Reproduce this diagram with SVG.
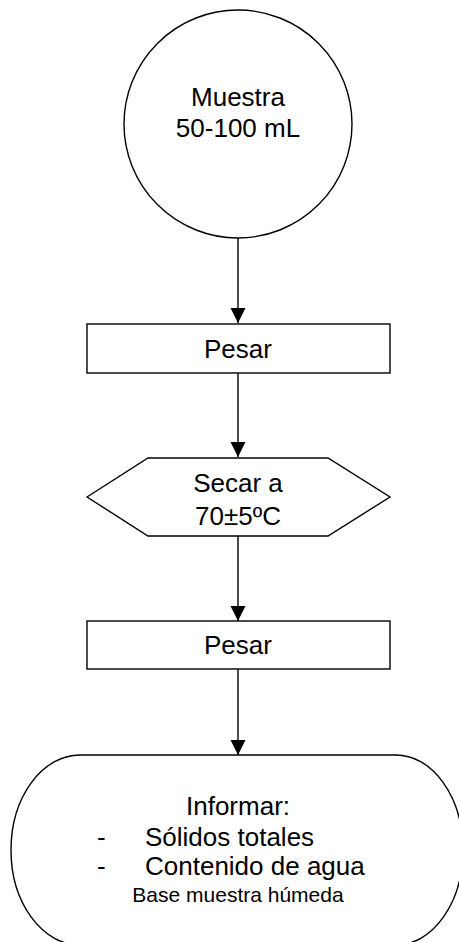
<svg xmlns="http://www.w3.org/2000/svg" width="459" height="942" viewBox="0 0 459 942">
<style>
.s{fill:#fff;stroke:#000;stroke-width:1.4}
.t{font-family:"Liberation Sans",Arial,sans-serif;font-size:26px;fill:#000}
.c{text-anchor:middle}
.e{stroke:#000;stroke-width:1.4;fill:none}
</style>
<defs>
<marker id="ah" markerUnits="userSpaceOnUse" markerWidth="16" markerHeight="16" refX="15" refY="7.5" orient="auto">
<path d="M0,0 L15,7.5 L0,15 Z" fill="#000"/>
</marker>
</defs>
<rect width="459" height="942" fill="#fff"/>
<g id="connectors">
<line class="e" x1="238" y1="238" x2="238" y2="323" marker-end="url(#ah)"/>
<line class="e" x1="238" y1="373" x2="238" y2="457" marker-end="url(#ah)"/>
<line class="e" x1="238" y1="536" x2="238" y2="621" marker-end="url(#ah)"/>
<line class="e" x1="238" y1="669" x2="238" y2="755" marker-end="url(#ah)"/>
</g>
<g id="muestra">
<circle class="s" cx="238" cy="124" r="114"/>
<text class="t c" x="238" y="106">Muestra</text>
<text class="t c" x="238" y="137">50-100 mL</text>
</g>
<g id="pesar1">
<rect class="s" x="87" y="324" width="303" height="49"/>
<text class="t c" x="238" y="358">Pesar</text>
</g>
<g id="secar">
<polygon class="s" points="87,497 148,458 328,458 390,497 328,536 148,536"/>
<text class="t c" x="238" y="492">Secar a</text>
<text class="t c" x="238" y="525">70±5ºC</text>
</g>
<g id="pesar2">
<rect class="s" x="87" y="621" width="303" height="48"/>
<text class="t c" x="238" y="654">Pesar</text>
</g>
<g id="informar">
<path class="s" d="M80,755 H396 A67,95 0 0 1 463,850 A67,95 0 0 1 396,945 H80 A69,95 0 0 1 11,850 A69,95 0 0 1 80,755 Z"/>
<text class="t c" x="238" y="815">Informar:</text>
<text class="t" x="97" y="846">-</text>
<text class="t" x="145" y="846">Sólidos totales</text>
<text class="t" x="97" y="875">-</text>
<text class="t" x="145" y="875">Contenido de agua</text>
<text class="t c" x="238" y="902" style="font-size:21px">Base muestra húmeda</text>
</g>
</svg>
